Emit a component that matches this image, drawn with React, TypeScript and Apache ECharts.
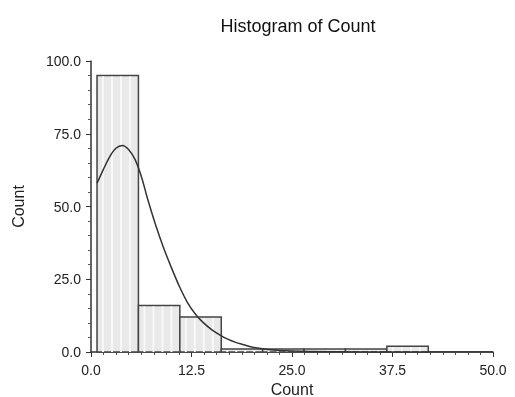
import React, { useEffect, useRef } from "react";
import * as echarts from "echarts";

const binEdges = [0.75, 5.9, 11.05, 16.2, 21.35, 26.5, 31.65, 36.8, 41.95];
const binCounts = [95, 16, 12, 1, 1, 1, 1, 2];
const curveX = [0.75, 1.5, 2.3, 3.1, 3.9, 4.7, 5.5, 6.3, 7, 8, 9, 10, 11, 12, 13, 14, 15, 16, 17, 18, 19, 20, 22, 25, 30, 40, 50];
const curveY = [58, 62.5, 67, 70, 71, 69.5, 66, 60, 53, 44, 36, 29, 22.5, 17, 13, 10, 7.7, 5.9, 4.4, 3.3, 2.5, 1.7, 0.9, 0.35, 0.1, 0, 0];
const xTicks = [0, 12.5, 25, 37.5, 50];
const yTicks = [0, 25, 50, 75, 100];

export default function App() {
  const ref = useRef<HTMLDivElement>(null);
  useEffect(() => {
    if (!ref.current) return;
    const chart = echarts.init(ref.current, null, { renderer: "svg" });
    const bins = binCounts.map((c, i) => [binEdges[i], binEdges[i + 1], c]);
    const font = "Liberation Sans, Arial, sans-serif";
    chart.setOption({
      animation: false,
      textStyle: { fontFamily: font },
      title: {
        text: "Histogram of Count",
        left: 293,
        textAlign: "center",
        top: 12,
        textStyle: { fontSize: 18, fontWeight: "normal", color: "#111", fontFamily: font },
      },
      grid: { left: 91, right: 22, top: 61, bottom: 45, outerBoundsMode: "none", containLabel: false },
      xAxis: {
        type: "value",
        min: xTicks[0],
        max: xTicks[xTicks.length - 1],
        interval: 12.5,
        name: "Count",
        nameLocation: "middle",
        nameGap: 28,
        nameTextStyle: { fontSize: 16, color: "#222" },
        axisLine: { show: true, lineStyle: { color: "#333", width: 1.5 } },
        axisTick: { show: true, length: 5, lineStyle: { color: "#333" } },
        minorTick: { show: true, splitNumber: 8, length: 3, lineStyle: { color: "#555" } },
        splitLine: { show: false },
        axisLabel: { fontSize: 14, color: "#222", margin: 11, formatter: (v: number) => v.toFixed(1) },
      },
      yAxis: {
        type: "value",
        min: yTicks[0],
        max: yTicks[yTicks.length - 1],
        interval: 25,
        name: "Count",
        nameLocation: "middle",
        nameGap: 65,
        nameTextStyle: { fontSize: 16, color: "#222" },
        axisLine: { show: true, lineStyle: { color: "#333", width: 1.5 } },
        axisTick: { show: true, length: 5, lineStyle: { color: "#333" } },
        minorTick: { show: true, splitNumber: 5, length: 3, lineStyle: { color: "#555" } },
        splitLine: { show: false },
        axisLabel: { fontSize: 14, color: "#222", margin: 10, formatter: (v: number) => v.toFixed(1) },
      },
      series: [
        {
          type: "custom",
          data: bins,
          encode: { x: [0, 1], y: 2 },
          renderItem: (params: any, api: any) => {
            const p0 = api.coord([api.value(0), api.value(2)]);
            const p1 = api.coord([api.value(1), 0]);
            const x = p0[0];
            const w = p1[0] - p0[0];
            const y = p0[1];
            const h = p1[1] - p0[1];
            const children: any[] = [
              { type: "rect", shape: { x, y, width: w, height: h }, style: { fill: "#e9e9e9", stroke: "#444", lineWidth: 1.5 } },
            ];
            for (let sx = x + 6; sx < x + w - 2; sx += 9) {
              children.push({
                type: "line",
                shape: { x1: sx, y1: y + 1, x2: sx, y2: y + h },
                style: { stroke: "#f8f8f8", lineWidth: 2 },
              });
            }
            return { type: "group", children };
          },
          z: 2,
        },
        {
          type: "line",
          data: curveX.map((x, i) => [x, curveY[i]]),
          smooth: 0.3,
          showSymbol: false,
          symbol: "none",
          lineStyle: { color: "#333", width: 1.5 },
          z: 3,
        },
      ],
    });
    return () => chart.dispose();
  }, []);
  return <div ref={ref} style={{ position: "fixed", left: 0, top: 0, width: 515, height: 397 }} />;
}
